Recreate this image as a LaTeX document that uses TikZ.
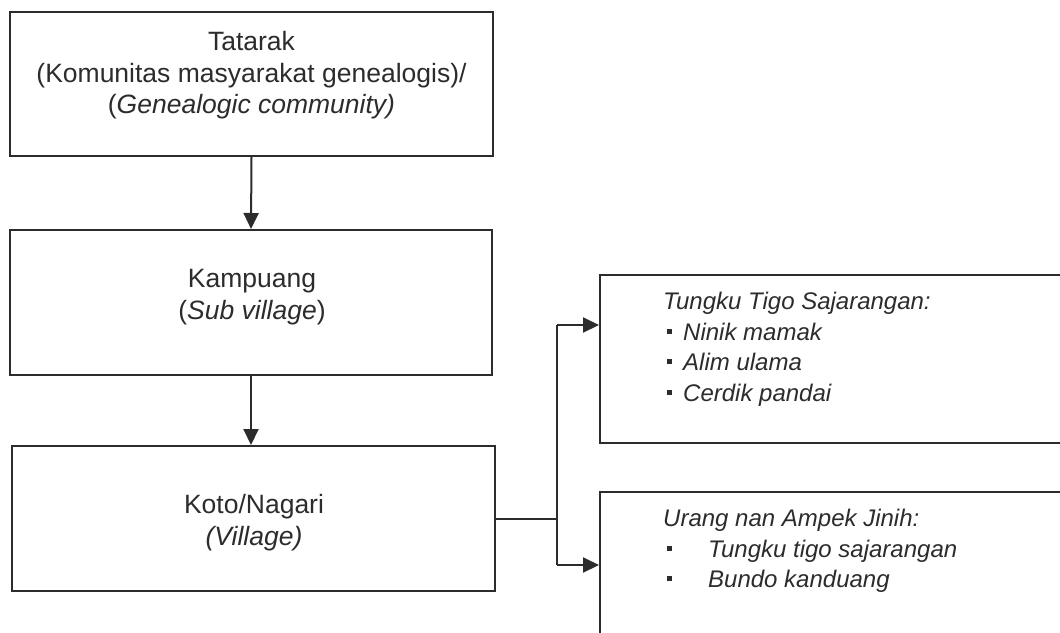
\documentclass[tikz,border=0pt]{standalone}
\usepackage{fontspec}
\setmainfont{Liberation Sans}
\usetikzlibrary{arrows.meta}
\definecolor{ink}{HTML}{2c2c2c}
\newcommand\sqbul{\hspace*{4pt}\rule[6.5pt]{5pt}{5pt}}
\begin{document}
\begin{tikzpicture}[x=1pt,y=-1pt,
  box/.style={draw=ink, line width=2pt, rectangle, inner sep=0pt},
  txt/.style={text=ink, inner sep=0pt, font=\fontsize{26.5}{31.7}\selectfont, align=center},
  ltxt/.style={text=ink, inner sep=0pt, font=\fontsize{24}{30.5}\selectfont\itshape, align=left},
  conn/.style={draw=ink, line width=2pt},
  arr/.style={conn, -{Triangle[length=16pt,width=15pt]}}]
\useasboundingbox (0,0) rectangle (1060,632);
\clip (0,0) rectangle (1060,632);
\fill[white] (0,0) rectangle (1060,632);
% left column boxes
\node[box, minimum width=483pt, minimum height=144pt] (b1) at (251.5,84) {};
\node[box, minimum width=482pt, minimum height=145pt] (b2) at (251,302.5) {};
\node[box, minimum width=483pt, minimum height=145pt] (b3) at (253,518.5) {};
% right boxes (cut by the picture edge)
\node[box, minimum width=480pt, minimum height=168pt] (r1) at (840,359) {};
\node[box, minimum width=480pt, minimum height=170pt] (r2) at (840,577) {};
% texts
\node[txt, anchor=north] (t1) at (251.5,31) {Tatarak\\(Komunitas masyarakat genealogis)/\\(\textit{Genealogic community)}};
\node[txt, anchor=north] (t2) at (252,269) {Kampuang\\(\textit{Sub village})};
\node[txt, anchor=north] (t3) at (254,494) {Koto/Nagari\\\textit{(Village)}};
\node[ltxt, anchor=north west] (t4) at (663,292) {Tungku Tigo Sajarangan:\\\sqbul\hspace{11pt}Ninik mamak\\\sqbul\hspace{11pt}Alim ulama\\\sqbul\hspace{11pt}Cerdik pandai};
\node[ltxt, anchor=north west] (t5) at (663,509) {Urang nan Ampek Jinih:\\\sqbul\hspace{36pt}Tungku tigo sajarangan\\\sqbul\hspace{36pt}Bundo kanduang};
% connectors
\coordinate (j1) at (557,325);
\coordinate (j2) at (557,565);
\draw[arr] (b1.south) -- (b2.north);
\draw[arr] (b2.south) -- (b2.south |- b3.north);
\draw[conn] (b3.east) -- (b3.east -| j1);
\draw[conn] (j1) -- (j2);
\draw[arr] (j1) -- (j1 -| r1.west);
\draw[arr] (j2) -- (j2 -| r2.west);
\end{tikzpicture}
\end{document}
